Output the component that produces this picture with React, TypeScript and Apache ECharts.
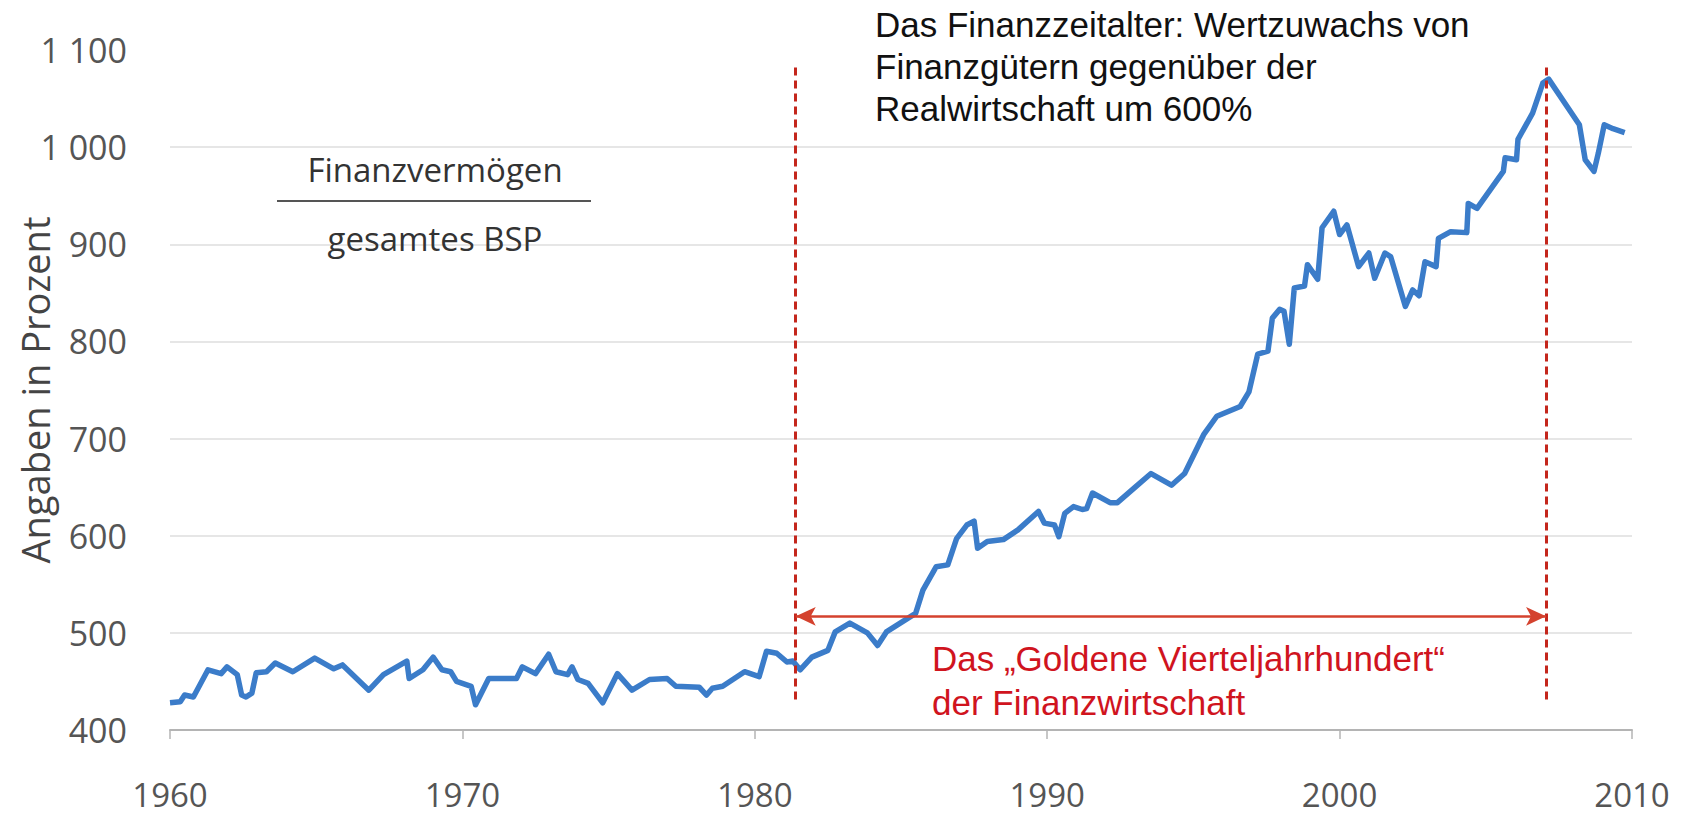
import React, { useEffect, useRef } from "react";
import * as echarts from "echarts";

const years: number[] = [
  1960.0, 1960.35, 1960.5, 1960.8, 1961.3, 1961.75, 1961.95, 1962.3, 1962.45, 1962.6,
  1962.8, 1962.95, 1963.3, 1963.6, 1964.2, 1964.95, 1965.6, 1965.9, 1966.8, 1967.3,
  1968.1, 1968.18, 1968.65, 1969.0, 1969.3, 1969.6, 1969.8, 1970.3, 1970.45, 1970.9,
  1971.85, 1972.05, 1972.5, 1972.95, 1973.2, 1973.6, 1973.75, 1973.95, 1974.3, 1974.8,
  1975.3, 1975.8, 1976.4, 1977.0, 1977.3, 1978.1, 1978.35, 1978.55, 1978.9, 1979.65,
  1980.15, 1980.4, 1980.75, 1981.1, 1981.3, 1981.55, 1981.95, 1982.5, 1982.75, 1983.25,
  1983.85, 1984.2, 1984.5, 1985.5, 1985.75, 1986.2, 1986.6, 1986.9, 1987.25, 1987.5,
  1987.62, 1987.95, 1988.5, 1989.0, 1989.7, 1989.9, 1990.25, 1990.4, 1990.6, 1990.9,
  1991.2, 1991.35, 1991.55, 1992.15, 1992.4, 1993.05, 1993.55, 1994.25, 1994.7, 1995.35,
  1995.8, 1996.6, 1996.9, 1997.2, 1997.55, 1997.7, 1997.95, 1998.1, 1998.28, 1998.45,
  1998.8, 1998.9, 1999.25, 1999.4, 1999.8, 2000.0, 2000.25, 2000.65, 2001.0, 2001.2,
  2001.55, 2001.75, 2002.25, 2002.5, 2002.72, 2002.92, 2003.3, 2003.38, 2003.8, 2004.35,
  2004.4, 2004.7, 2005.6, 2005.66, 2006.05, 2006.1, 2006.6, 2006.95, 2007.15, 2008.2,
  2008.4, 2008.7, 2008.85, 2009.05, 2009.35, 2009.75,
];

const values: number[] = [
  428, 429, 436, 434, 462, 458, 465, 457, 436, 434,
  438, 459, 460, 469, 460, 474, 463, 467, 441, 457,
  471, 453, 462, 475, 462, 460, 450, 445, 426, 453,
  453, 465, 458, 478, 460, 457, 465, 452, 448, 428,
  458, 441, 452, 453, 445, 444, 436, 443, 445, 460,
  455, 481, 479, 470, 471, 462, 475, 482, 501, 510,
  500, 487, 501, 520, 544, 568, 570, 597, 611, 615,
  587, 594, 596, 606, 625, 613, 611, 599, 623, 630,
  627, 628, 644, 634, 634, 651, 664, 652, 664, 704,
  723, 733, 748, 787, 790, 824, 833, 831, 797, 855,
  857, 879, 864, 917, 934, 910, 920, 877, 891, 865,
  891, 887, 836, 853, 847, 882, 877, 906, 913, 912,
  942, 937, 975, 989, 987, 1008, 1035, 1066, 1070, 1023,
  987, 975, 994, 1023, 1019, 1015,
];

const xTicks = { min: 1960, max: 2010, interval: 10 };
const yTicks = { min: 400, max: 1100, interval: 100 };

const eraStart = 1981.4;
const eraEnd = 2007.06;
const dashTop = 1082;
const dashBottom = 428;
const arrowLevel = 517;

const titleLines = [
  "Das Finanzzeitalter: Wertzuwachs von",
  "Finanzgütern gegenüber der",
  "Realwirtschaft um 600%",
];
const redLines = ["Das „Goldene Vierteljahrhundert“", "der Finanzwirtschaft"];
const fracTop = "Finanzvermögen";
const fracBottom = "gesamtes BSP";
const yName = "Angaben in Prozent";

export default function App() {
  const ref = useRef<HTMLDivElement>(null);

  useEffect(() => {
    if (!ref.current) return;
    const chart = echarts.init(ref.current, undefined, { renderer: "svg" });
    const data = years.map((y, i) => [y, values[i]]);
    const gridColors = ["rgba(0,0,0,0)", "#dedede", "#dedede", "#dedede", "#dedede", "#dedede", "#dedede", "rgba(0,0,0,0)"];
    const dashStyle = { color: "#c4261c", width: 3, type: [8, 5] as any };

    chart.setOption({
      animation: false,
      backgroundColor: "#ffffff",
      grid: { left: 170, right: 52, top: 50, bottom: 91, containLabel: false, outerBoundsMode: "none" },
      xAxis: {
        type: "value",
        min: xTicks.min,
        max: xTicks.max,
        interval: xTicks.interval,
        axisLine: { show: true, lineStyle: { color: "#b4b4b4", width: 2 } },
        axisTick: { show: true, length: 9, lineStyle: { color: "#b4b4b4", width: 1.5 } },
        splitLine: { show: false },
        axisLabel: {
          color: "#555",
          fontSize: 33,
          fontFamily: "'Open Sans', sans-serif",
          margin: 48,
          formatter: (v: number) => String(v),
        },
      },
      yAxis: {
        type: "value",
        min: yTicks.min,
        max: yTicks.max,
        interval: yTicks.interval,
        name: yName,
        nameLocation: "middle",
        nameRotate: 90,
        nameGap: 116,
        nameMoveOverlap: false,
        nameTextStyle: { color: "#444", fontSize: 38, fontFamily: "'Open Sans', sans-serif" },
        axisLine: { show: false },
        axisTick: { show: false },
        splitLine: { show: true, lineStyle: { color: gridColors, width: 1.5 } },
        axisLabel: {
          color: "#555",
          fontSize: 34,
          fontFamily: "'Open Sans', sans-serif",
          margin: 43,
          formatter: (v: number) => (v >= 1000 ? String(v).replace(/(\d)(\d{3})$/, "$1 $2") : String(v)),
        },
      },
      series: [
        {
          type: "line",
          data,
          showSymbol: false,
          symbol: "none",
          lineStyle: { color: "#3b7cc9", width: 5.5, join: "round" },
          z: 3,
          markLine: {
            silent: true,
            symbol: ["none", "none"],
            label: { show: false },
            z: 4,
            data: [
              [
                { coord: [eraStart, dashTop], lineStyle: dashStyle },
                { coord: [eraStart, dashBottom] },
              ],
              [
                { coord: [eraEnd, dashTop], lineStyle: dashStyle },
                { coord: [eraEnd, dashBottom] },
              ],
              [
                {
                  coord: [eraStart, arrowLevel],
                  symbol: "arrow",
                  symbolSize: [14, 20],
                  lineStyle: { color: "#d4422e", width: 2.5, type: "solid" },
                },
                { coord: [eraEnd, arrowLevel], symbol: "arrow", symbolSize: [14, 20] },
              ],
            ],
          },
        },
      ],
      graphic: [
        {
          type: "text",
          x: 875,
          y: 3,
          z: 10,
          style: {
            text: titleLines.join("\n"),
            fill: "#111",
            font: "35px 'Liberation Sans', Arial, sans-serif",
            lineHeight: 42,
            textVerticalAlign: "top",
          },
        },
        {
          type: "text",
          x: 932,
          y: 636,
          z: 10,
          style: {
            text: redLines.join("\n"),
            fill: "#d0141e",
            font: "35px 'Liberation Sans', Arial, sans-serif",
            lineHeight: 44,
            textVerticalAlign: "top",
          },
        },
        {
          type: "text",
          x: 435,
          y: 169,
          z: 10,
          style: {
            text: fracTop,
            fill: "#333",
            font: "33px 'Open Sans', sans-serif",
            textAlign: "center",
            textVerticalAlign: "middle",
          },
        },
        {
          type: "line",
          z: 10,
          shape: { x1: 277, y1: 201, x2: 591, y2: 201 },
          style: { stroke: "#555", lineWidth: 2 },
        },
        {
          type: "text",
          x: 435,
          y: 238,
          z: 10,
          style: {
            text: fracBottom,
            fill: "#333",
            font: "33px 'Open Sans', sans-serif",
            textAlign: "center",
            textVerticalAlign: "middle",
          },
        },
      ],
    });
    return () => chart.dispose();
  }, []);

  return <div ref={ref} style={{ width: 1684, height: 821, margin: -8 }} />;
}
